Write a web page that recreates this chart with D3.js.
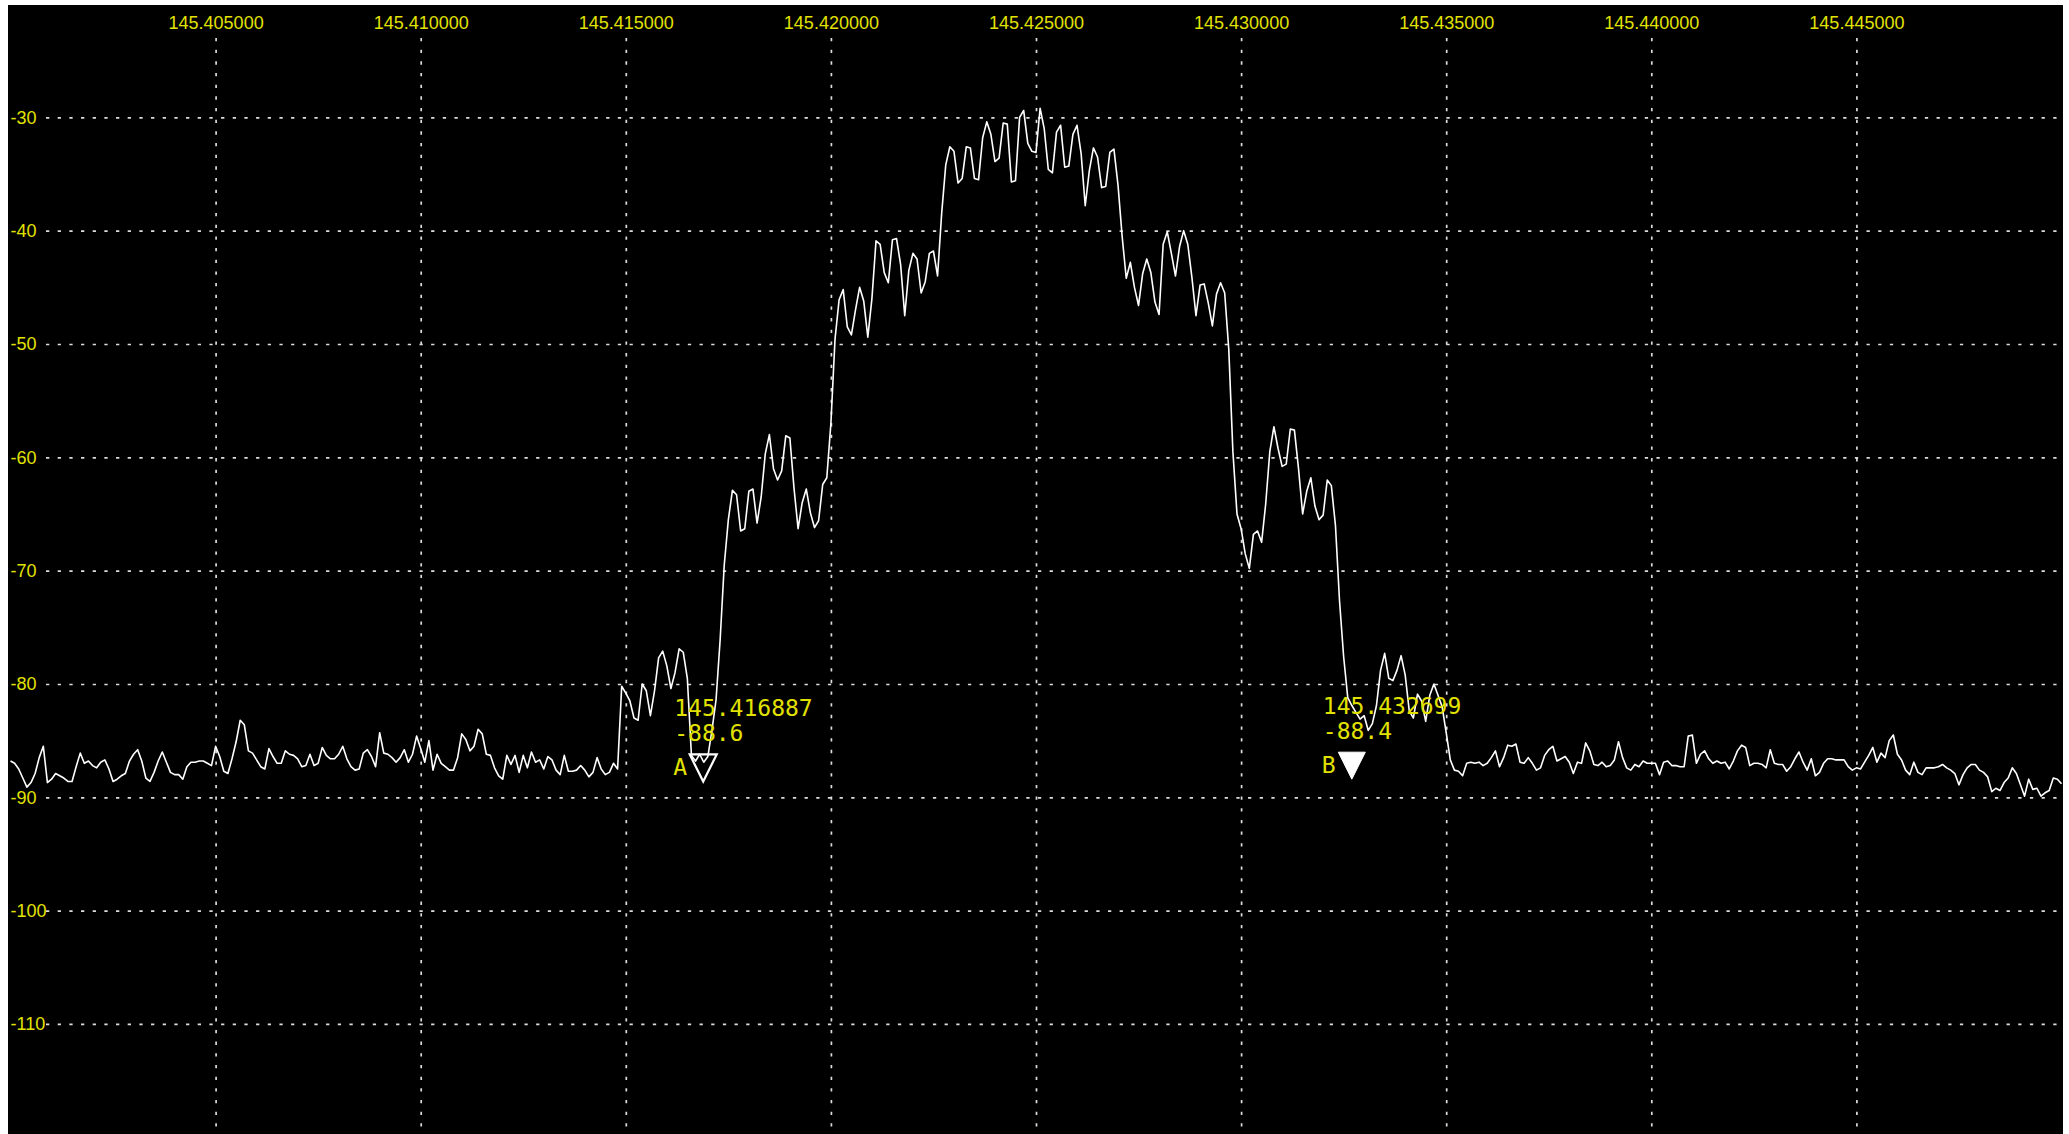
<!DOCTYPE html>
<html>
<head>
<meta charset="utf-8">
<script src="https://cdn.jsdelivr.net/npm/d3@7"></script>
<style>
  html, body { margin: 0; padding: 0; background: #ffffff; }
  svg { display: block; }
</style>
</head>
<body>
<svg id="chart" width="2069" height="1134"></svg>
<script>
// Spectrum trace: level (dBm) every 100 Hz starting at 145.400000 MHz
const startFreq = 145.400;
const freqStep = 0.0001;
const levels = [
  -86.8, -87.0, -87.5, -88.3, -89.1, -88.7, -87.9, -86.5, -85.5, -88.7,
  -88.4, -87.9, -88.1, -88.3, -88.6, -88.6, -87.3, -86.1, -87.0, -86.8,
  -87.2, -87.4, -86.9, -86.7, -87.5, -88.6, -88.4, -88.1, -87.9, -86.8,
  -86.2, -85.8, -86.8, -88.3, -88.6, -87.8, -86.8, -86.0, -86.9, -87.8,
  -88.0, -88.0, -88.4, -87.3, -86.9, -86.9, -86.8, -86.8, -87.0, -87.2,
  -85.5, -86.4, -87.7, -87.9, -86.6, -85.1, -83.2, -83.6, -85.9, -86.1,
  -86.7, -87.3, -87.5, -85.7, -86.4, -87.0, -87.0, -85.9, -86.2, -86.3,
  -86.6, -87.3, -87.2, -86.2, -87.2, -87.0, -85.6, -86.3, -86.6, -86.6,
  -86.2, -85.5, -86.6, -87.3, -87.6, -87.5, -86.1, -85.8, -86.4, -87.3,
  -84.3, -86.1, -86.2, -86.5, -86.9, -86.5, -85.8, -86.9, -86.2, -84.6,
  -85.7, -86.9, -85.0, -87.6, -86.2, -87.0, -87.3, -87.6, -87.6, -86.5,
  -84.4, -84.9, -85.9, -85.5, -84.0, -84.4, -86.2, -86.3, -87.4, -88.1,
  -88.4, -86.3, -87.1, -86.3, -87.8, -86.3, -87.4, -86.0, -86.9, -86.7,
  -87.5, -86.4, -86.7, -87.6, -88.0, -86.3, -87.7, -87.7, -87.6, -87.2,
  -87.6, -88.2, -87.8, -86.5, -87.5, -88.0, -87.8, -87.0, -87.5, -80.2,
  -80.8, -81.5, -83.0, -83.2, -80.0, -80.6, -82.8, -80.6, -77.7, -77.1,
  -78.4, -80.4, -79.0, -76.9, -77.2, -79.5, -86.3, -86.8, -86.2, -86.9,
  -86.4, -84.1, -81.4, -76.1, -69.5, -65.5, -62.9, -63.3, -66.5, -66.3,
  -63.0, -62.8, -65.8, -63.5, -59.7, -58.0, -61.0, -62.0, -61.2, -58.1,
  -58.3, -62.7, -66.3, -64.0, -62.8, -64.9, -66.2, -65.6, -62.4, -61.8,
  -57.0, -49.6, -46.1, -45.2, -48.5, -49.2, -47.0, -45.0, -46.2, -49.4,
  -46.0, -40.9, -41.2, -43.7, -44.6, -40.8, -40.7, -43.0, -47.5, -43.5,
  -42.0, -42.5, -45.5, -44.5, -42.0, -41.8, -44.0, -38.5, -34.2, -32.6,
  -33.0, -35.8, -35.4, -32.6, -32.7, -35.4, -35.5, -31.8, -30.4, -31.5,
  -33.9, -33.6, -30.5, -30.6, -35.7, -35.6, -30.0, -29.4, -32.3, -33.0,
  -33.1, -29.2, -31.0, -34.6, -34.9, -31.3, -30.7, -34.4, -34.3, -31.5,
  -30.7, -33.2, -37.8, -34.7, -32.7, -33.5, -36.2, -36.1, -33.1, -32.8,
  -36.0, -40.5, -44.2, -42.8, -45.0, -46.6, -43.8, -42.5, -43.7, -46.3,
  -47.4, -41.2, -40.1, -42.0, -44.0, -41.4, -40.0, -41.2, -44.1, -47.5,
  -44.8, -44.7, -46.4, -48.4, -45.6, -44.6, -45.5, -50.5, -59.5, -65.0,
  -66.3, -68.5, -69.8, -66.8, -66.5, -67.5, -64.1, -59.5, -57.3, -59.2,
  -60.8, -60.6, -57.5, -57.6, -61.0, -65.0, -63.0, -61.8, -64.3, -65.5,
  -65.1, -62.0, -62.5, -66.0, -72.7, -77.6, -81.2, -81.9, -82.5, -83.1,
  -82.8, -84.1, -83.5, -81.9, -78.8, -77.3, -79.5, -79.7, -78.8, -77.5,
  -79.2, -82.4, -83.0, -80.9, -81.5, -83.3, -81.0, -80.0, -81.0, -82.0,
  -84.3, -86.7, -87.6, -87.7, -88.1, -87.0, -86.9, -87.0, -86.9, -87.2,
  -87.0, -86.5, -85.9, -87.3, -86.5, -85.4, -85.5, -85.3, -86.9, -87.0,
  -86.5, -87.0, -87.6, -87.4, -86.3, -85.8, -85.5, -86.8, -86.6, -86.4,
  -86.9, -87.9, -86.9, -87.0, -85.2, -85.9, -87.1, -87.2, -86.9, -87.3,
  -87.2, -86.7, -85.1, -86.5, -87.4, -87.6, -87.1, -87.3, -86.8, -87.0,
  -87.0, -87.0, -88.0, -86.9, -86.8, -87.2, -87.2, -87.3, -87.3, -84.6,
  -84.5, -87.0, -86.2, -85.9, -86.6, -87.0, -86.8, -87.0, -86.9, -87.5,
  -86.8, -85.9, -85.4, -85.6, -87.2, -87.0, -87.0, -87.1, -87.4, -85.8,
  -87.0, -87.1, -87.1, -87.7, -87.3, -86.6, -86.0, -86.9, -87.6, -86.6,
  -88.1, -87.8, -87.0, -86.6, -86.6, -86.7, -86.7, -86.7, -87.3, -87.6,
  -87.4, -87.5, -86.9, -86.3, -85.6, -86.9, -86.1, -86.5, -85.0, -84.5,
  -86.2, -86.7, -87.6, -88.0, -86.9, -87.8, -88.0, -87.4, -87.4, -87.4,
  -87.3, -87.1, -87.4, -87.6, -87.9, -88.9, -88.0, -87.4, -87.1, -87.1,
  -87.6, -87.8, -88.2, -89.5, -89.2, -89.4, -88.7, -88.3, -87.4, -87.9,
  -88.9, -89.9, -88.4, -89.3, -89.2, -89.9, -89.6, -89.4, -88.3, -88.4,
  -88.8
];

// Axis ticks
const freqTicks = [145.405, 145.410, 145.415, 145.420, 145.425, 145.430, 145.435, 145.440, 145.445];
const levelTicks = [-30, -40, -50, -60, -70, -80, -90, -100, -110];

// Markers
const markerNames = ["A", "B"];
const markerFreqs = [145.416887, 145.432699];
const markerLevels = [-88.6, -88.4];

// Layout
const W = 2069, H = 1134;
const plotLeft = 8, plotTop = 5, plotRight = 2063, plotBottom = 1134;
const gridTop = 38, gridLeft = 46;
const yellow = "#e2e200";
const gridColor = "#dcdcdc";

const svg = d3.select("#chart");

const x = d3.scaleLinear().domain([145.400, 145.450]).range([10.5, 2061.5]);
const y = d3.scaleLinear().domain([-120, -20]).range([1137.3, 4.0]);

svg.append("rect")
  .attr("x", plotLeft).attr("y", plotTop)
  .attr("width", plotRight - plotLeft).attr("height", plotBottom - plotTop)
  .attr("fill", "#000");

svg.append("defs").append("clipPath").attr("id", "plotClip")
  .append("rect")
  .attr("x", plotLeft).attr("y", plotTop)
  .attr("width", plotRight - plotLeft).attr("height", plotBottom - plotTop);

// Dotted grid
const gx = svg.append("g")
  .attr("transform", `translate(0,${gridTop})`)
  .call(d3.axisBottom(x).tickValues(freqTicks).tickSize(H - gridTop).tickFormat(""));
gx.select(".domain").remove();
gx.selectAll(".tick line")
  .attr("stroke", gridColor).attr("stroke-width", 1.7)
  .attr("stroke-dasharray", "3.3,8.37");

const gy = svg.append("g")
  .attr("transform", `translate(${gridLeft},0)`)
  .call(d3.axisRight(y).tickValues(levelTicks).tickSize(plotRight - gridLeft).tickFormat(""));
gy.select(".domain").remove();
gy.selectAll(".tick line")
  .attr("stroke", gridColor).attr("stroke-width", 1.7)
  .attr("stroke-dasharray", "3.3,8.37");

// Frequency labels along the top
const ax = svg.append("g")
  .attr("transform", `translate(0,${gridTop})`)
  .call(d3.axisTop(x).tickValues(freqTicks).tickSize(0).tickPadding(9.5)
    .tickFormat(d => d.toFixed(6)));
ax.select(".domain").remove();
ax.attr("font-family", "'Liberation Sans', Arial, sans-serif").attr("font-size", 18);
ax.selectAll(".tick text").attr("fill", yellow);

// Level labels on the left
const ay = svg.append("g")
  .attr("transform", "translate(10.5,0)")
  .call(d3.axisRight(y).tickValues(levelTicks).tickSize(0).tickPadding(0)
    .tickFormat(d => String(d)));
ay.select(".domain").remove();
ay.attr("font-family", "'Liberation Sans', Arial, sans-serif").attr("font-size", 18);
ay.selectAll(".tick text").attr("fill", yellow).attr("text-anchor", "start");

// Trace
const points = levels.map((v, i) => ({ f: startFreq + i * freqStep, v }));
const line = d3.line().x(d => x(d.f)).y(d => y(d.v));
svg.append("path")
  .datum(points)
  .attr("clip-path", "url(#plotClip)")
  .attr("d", line)
  .attr("fill", "none")
  .attr("stroke", "#ffffff")
  .attr("stroke-width", 1.6)
  .attr("stroke-linejoin", "round");

// Markers
const markers = markerNames.map((name, i) => ({ name, f: markerFreqs[i], v: markerLevels[i] }));
const mg = svg.append("g").selectAll("g").data(markers).join("g")
  .attr("transform", d => `translate(${x(d.f)},${y(d.v)})`);

const half = 13.5, tall = 27;
mg.append("path")
  .attr("d", `M${-half},${-tall}L${half},${-tall}L0,0Z`)
  .attr("fill", d => d.name === "A" ? "none" : "#ffffff")
  .attr("stroke", "#ffffff")
  .attr("stroke-width", d => d.name === "A" ? 2.2 : 1)
  .attr("stroke-linejoin", "miter");

const mono = "'DejaVu Sans Mono', monospace";
mg.append("text")
  .attr("x", -29).attr("y", -65)
  .attr("font-family", mono).attr("font-size", 23).attr("fill", yellow)
  .text(d => d.f.toFixed(6));
mg.append("text")
  .attr("x", -29).attr("y", -40.5)
  .attr("font-family", mono).attr("font-size", 23).attr("fill", yellow)
  .text(d => d.v.toFixed(1));
mg.append("text")
  .attr("x", -30).attr("y", -6.5)
  .attr("font-family", mono).attr("font-size", 23).attr("fill", yellow)
  .text(d => d.name);
</script>
</body>
</html>
